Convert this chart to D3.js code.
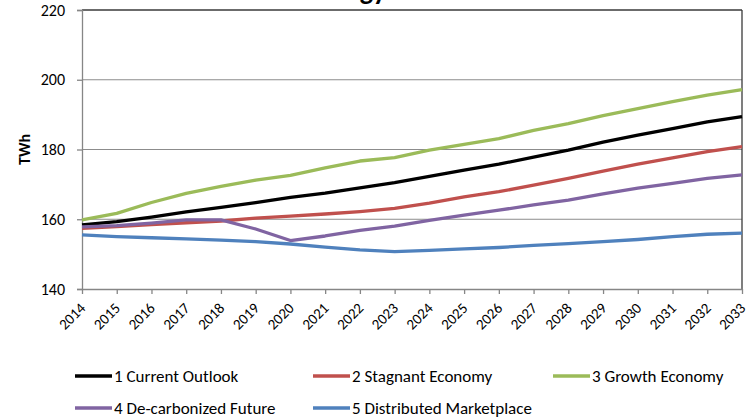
<!DOCTYPE html>
<html>
<head>
<meta charset="utf-8">
<script src="https://cdn.jsdelivr.net/npm/d3@7"></script>
<style>
html,body{margin:0;padding:0;background:#fff;}
svg{display:block;font-family:Calibri,Carlito,Lato,"Open Sans",sans-serif;}
</style>
</head>
<body>
<svg id="chart" width="755" height="419"></svg>
<script>
const titleText = "Energy Forecast";
const yTitle = "TWh";
const years = ["2014","2015","2016","2017","2018","2019","2020","2021","2022","2023","2024","2025","2026","2027","2028","2029","2030","2031","2032","2033"];
const yTicks = [140,160,180,200,220];

const currentOutlook = [158.4,159.3,160.6,162.1,163.4,164.8,166.3,167.5,169.0,170.5,172.3,174.1,175.8,177.8,179.8,182.1,184.1,186.0,187.9,189.4];
const stagnantEconomy = [157.4,157.9,158.5,159.0,159.5,160.3,160.9,161.5,162.2,163.1,164.6,166.4,167.9,169.8,171.7,173.8,175.8,177.6,179.4,180.8];
const growthEconomy = [159.8,161.7,164.8,167.4,169.4,171.2,172.6,174.7,176.7,177.7,179.8,181.5,183.1,185.5,187.4,189.7,191.7,193.7,195.6,197.2];
const decarbonizedFuture = [157.8,158.2,158.9,159.8,159.8,157.2,153.9,155.2,156.8,158.0,159.7,161.2,162.6,164.1,165.5,167.3,168.9,170.3,171.7,172.7];
const distributedMarketplace = [155.5,155.0,154.7,154.4,154.0,153.6,152.9,152.0,151.2,150.7,151.1,151.5,151.9,152.5,153.0,153.6,154.2,155.0,155.7,156.0];

const seriesNames = ["1 Current Outlook","2 Stagnant Economy","3 Growth Economy","4 De-carbonized Future","5 Distributed Marketplace"];
const seriesColors = ["#000000","#C0504D","#9BBB59","#8064A2","#4F81BD"];
const seriesValues = [currentOutlook, stagnantEconomy, growthEconomy, decarbonizedFuture, distributedMarketplace];

const svg = d3.select("#chart");
const L = 82, R = 742, T = 10, B = 289;

const x = d3.scalePoint().domain(years).range([L, R]);
const y = d3.scaleLinear().domain([140, 220]).range([B, T]);

// gridlines
svg.append("g").selectAll("line").data(yTicks.filter(d => d > 140 && d < 220)).join("line")
  .attr("x1", L).attr("x2", R).attr("y1", d => y(d)).attr("y2", d => y(d))
  .attr("stroke", "#8c8c8c").attr("stroke-width", 1);

// plot border (top/right)
svg.append("line").attr("x1", L).attr("x2", R).attr("y1", T).attr("y2", T).attr("stroke", "#3a3a3a").attr("stroke-width", 1.3);
svg.append("line").attr("x1", R).attr("x2", R).attr("y1", T).attr("y2", B).attr("stroke", "#3a3a3a").attr("stroke-width", 1.3);

// y axis
const yAxis = svg.append("g").attr("transform", `translate(${L},0)`)
  .call(d3.axisLeft(y).tickValues(yTicks).tickSize(5).tickPadding(12).tickFormat(d3.format("d")));
yAxis.select(".domain").attr("stroke", "#868686").attr("stroke-width", 1.3);
yAxis.selectAll(".tick line").attr("stroke", "#868686").attr("stroke-width", 1.3);
yAxis.selectAll("text").attr("font-size", 16).attr("fill", "#000").attr("font-family", "Calibri,Carlito,Lato,sans-serif");

// x axis
const xAxis = svg.append("g").attr("transform", `translate(0,${B})`)
  .call(d3.axisBottom(x).tickSize(5).tickSizeOuter(0));
xAxis.select(".domain").attr("stroke", "#868686").attr("stroke-width", 1.3);
xAxis.selectAll(".tick line").attr("stroke", "#868686").attr("stroke-width", 1.3);
xAxis.selectAll("text")
  .attr("font-size", 15).attr("fill", "#000").attr("font-family", "Calibri,Carlito,Lato,sans-serif")
  .attr("text-anchor", "end")
  .attr("dy", null).attr("y", 0)
  .attr("transform", "translate(4,20) rotate(-45)");

// y title
svg.append("text").attr("transform", `translate(30,${(T+B)/2}) rotate(-90)`)
  .attr("text-anchor", "middle").attr("font-size", 16).attr("font-weight", "bold").text(yTitle);

// lines
const line = d3.line().x((d, i) => x(years[i])).y(d => y(d));
svg.append("g").selectAll("path").data(seriesValues).join("path")
  .attr("d", d => line(d)).attr("fill", "none")
  .attr("stroke", (d, i) => seriesColors[i]).attr("stroke-width", 3.3)
  .attr("stroke-linejoin", "round").attr("stroke-linecap", "butt");

// title (mostly cut off at top, as in the reference)
const meas = svg.append("text").attr("font-size", 28).attr("font-weight", "bold").text("Ener");
const pre = meas.node().getComputedTextLength();
meas.remove();
svg.append("text").attr("x", 360 - pre).attr("y", -0.5)
  .attr("font-size", 28).attr("font-weight", "bold").attr("fill", "#000").text(titleText);

// legend
const legendPos = [[75,376],[313,376],[553,376],[75,408],[313,408]];
const lg = svg.append("g").selectAll("g").data(seriesNames).join("g")
  .attr("transform", (d, i) => `translate(${legendPos[i][0]},${legendPos[i][1]})`);
lg.append("line").attr("x1", 0).attr("x2", 37).attr("y1", 0).attr("y2", 0)
  .attr("stroke", (d, i) => seriesColors[i]).attr("stroke-width", 3.3);
lg.append("text").attr("x", 39).attr("y", 0).attr("dy", "0.35em")
  .attr("font-size", 17).attr("fill", "#000").text(d => d);
</script>
</body>
</html>
